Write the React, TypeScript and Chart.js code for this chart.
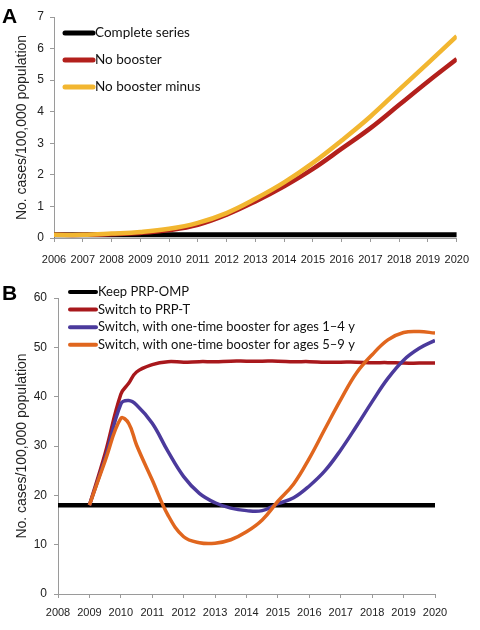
import React, { useEffect, useRef } from "react";
import { Chart, registerables } from "chart.js";

Chart.register(...registerables);

// ---------- Panel A data ----------
const yearsA = [2006, 2007, 2008, 2009, 2010, 2011, 2012, 2013, 2014, 2015, 2016, 2017, 2018, 2019, 2020];
const completeSeries = [0.1, 0.1, 0.1, 0.1, 0.1, 0.1, 0.1, 0.1, 0.1, 0.1, 0.1, 0.1, 0.1, 0.1, 0.1];
const noBooster = [0.1, 0.1, 0.12, 0.16, 0.25, 0.42, 0.74, 1.16, 1.64, 2.19, 2.83, 3.48, 4.22, 4.96, 5.67];
const noBoosterMinus = [0.1, 0.1, 0.14, 0.19, 0.29, 0.48, 0.79, 1.24, 1.76, 2.38, 3.09, 3.85, 4.7, 5.54, 6.39];
const labelsA = ["Complete series", "No booster", "No booster minus"];

// ---------- Panel B data ----------
const yearsB = [2008, 2008.5, 2009, 2009.5, 2010, 2010.25, 2010.5, 2011, 2011.5, 2012, 2012.5, 2013, 2013.5, 2014, 2014.5, 2015, 2015.5, 2016, 2016.5, 2017, 2017.5, 2018, 2018.5, 2019, 2019.5, 2020];
const keepPRPOMP = [18, 18, 18, 18, 18, 18, 18, 18, 18, 18, 18, 18, 18, 18, 18, 18, 18, 18, 18, 18, 18, 18, 18, 18, 18, 18];
const switchPRPT = [null, null, 18, 28.5, 40.5, 42.7, 45.0, 46.5, 47.1, 47.0, 47.1, 47.1, 47.2, 47.2, 47.2, 47.2, 47.1, 47.1, 47.0, 47.0, 47.0, 46.9, 46.9, 46.8, 46.8, 46.8];
const switchBooster1to4 = [null, null, 18, 27.5, 38.5, 39.2, 38.3, 34.6, 28.9, 23.8, 20.4, 18.5, 17.4, 16.9, 16.9, 18.3, 19.5, 21.9, 25.0, 29.2, 34.0, 39.0, 43.7, 47.4, 49.8, 51.4];
const switchBooster5to9 = [null, null, 18, 27, 35.6, 34.6, 30.2, 23.1, 16.0, 11.6, 10.4, 10.3, 11.0, 12.6, 15.0, 18.8, 22.3, 27.5, 33.5, 39.4, 44.8, 48.5, 51.5, 53.0, 53.2, 52.9];
const labelsB = [
  "Keep PRP-OMP",
  "Switch to PRP-T",
  "Switch, with one-time booster for ages 1\u20134 y",
  "Switch, with one-time booster for ages 5\u20139 y",
];

const yTitle = "No. cases/100,000 population";

const toPoints = (xs: number[], ys: (number | null)[]) => xs.map((x, i) => ({ x, y: ys[i] }));

const insideLegend = {
  id: "insideLegend",
  afterDraw(chart: any, _args: any, opts: any) {
    const ctx = chart.ctx;
    ctx.save();
    const ds = chart.data.datasets;
    ds.forEach((d: any, i: number) => {
      const y = opts.y + i * opts.rowHeight;
      ctx.strokeStyle = d.borderColor;
      ctx.lineWidth = opts.lineWidth;
      ctx.lineCap = "round";
      ctx.beginPath();
      ctx.moveTo(opts.x, y);
      ctx.lineTo(opts.x + opts.lineLen, y);
      ctx.stroke();
      ctx.fillStyle = "#111";
      ctx.font = opts.font;
      ctx.textBaseline = "middle";
      ctx.textAlign = "left";
      ctx.fillText(d.label, opts.x + opts.lineLen + opts.gap, y);
    });
    if (opts.panel) {
      ctx.font = "bold 21px 'Liberation Sans', Arial, sans-serif";
      ctx.fillStyle = "#000";
      ctx.textBaseline = "alphabetic";
      ctx.fillText(opts.panel, opts.panelX, opts.panelY);
    }
    ctx.restore();
  },
};

const axisColor = "#9a9a9a";
const tickFont = { family: "'Liberation Sans', Arial, sans-serif", size: 11 };

export default function App() {
  const refA = useRef<HTMLCanvasElement>(null);
  const refB = useRef<HTMLCanvasElement>(null);

  useEffect(() => {
    const lineDs = (label: string, data: any, color: string, width: number, order: number) => ({
      label,
      data,
      borderColor: color,
      backgroundColor: color,
      borderWidth: width,
      pointRadius: 0,
      tension: 0.4,
      fill: false,
      order,
      borderCapStyle: "butt" as const,
    });

    const chartA = new Chart(refA.current!, {
      type: "line",
      data: {
        datasets: [
          lineDs(labelsA[0], toPoints(yearsA, completeSeries), "#000000", 5, 3),
          lineDs(labelsA[1], toPoints(yearsA, noBooster), "#b3201c", 4.5, 2),
          lineDs(labelsA[2], toPoints(yearsA, noBoosterMinus), "#f2b630", 4.5, 1),
        ],
      },
      options: {
        animation: false,
        responsive: false,
        maintainAspectRatio: false,
        layout: { padding: { top: 17, right: 22, left: 0, bottom: 0 } },
        plugins: {
          legend: { display: false },
          tooltip: { enabled: false },
          insideLegend: {
            x: 65, y: 33, rowHeight: 27, lineLen: 28, gap: 2, lineWidth: 5,
            font: "13.5px Lato, 'Open Sans', sans-serif",
            panel: "A", panelX: 2, panelY: 23,
          },
        } as any,
        scales: {
          x: {
            type: "linear",
            min: 2006,
            max: 2020,
            afterFit: (s: any) => { s.height = 32; },
            ticks: { stepSize: 1, autoSkip: false, maxRotation: 0, padding: 11, color: "#222", font: tickFont, callback: (v: any) => String(v) },
            grid: { drawOnChartArea: false, drawTicks: true, tickLength: 4, color: axisColor },
            border: { display: true, color: axisColor, width: 1 },
          },
          y: {
            min: 0,
            max: 7,
            afterFit: (s: any) => { s.width = 54; },
            ticks: { stepSize: 1, padding: 6, color: "#222", font: { ...tickFont, size: 12 } },
            grid: { drawOnChartArea: false, drawTicks: true, tickLength: 4, color: axisColor },
            border: { display: true, color: axisColor, width: 1 },
            title: { display: true, text: yTitle, color: "#222", font: { family: "'Liberation Sans', Arial, sans-serif", size: 14 }, padding: { top: 14, bottom: 0 } },
          },
        },
      },
      plugins: [insideLegend],
    });

    const chartB = new Chart(refB.current!, {
      type: "line",
      data: {
        datasets: [
          lineDs(labelsB[0], toPoints(yearsB, keepPRPOMP), "#000000", 4.5, 4),
          lineDs(labelsB[1], toPoints(yearsB, switchPRPT), "#a8181c", 3.5, 3),
          lineDs(labelsB[2], toPoints(yearsB, switchBooster1to4), "#4b3a9c", 3.5, 2),
          lineDs(labelsB[3], toPoints(yearsB, switchBooster5to9), "#e0661e", 3.5, 1),
        ],
      },
      options: {
        animation: false,
        responsive: false,
        maintainAspectRatio: false,
        layout: { padding: { top: 28, right: 45, left: 0, bottom: 0 } },
        plugins: {
          legend: { display: false },
          tooltip: { enabled: false },
          insideLegend: {
            x: 70, y: 22, rowHeight: 17.6, lineLen: 26, gap: 2, lineWidth: 4,
            font: "13px Lato, 'Open Sans', sans-serif",
            panel: "B", panelX: 2, panelY: 30,
          },
        } as any,
        scales: {
          x: {
            type: "linear",
            min: 2008,
            max: 2020,
            afterFit: (s: any) => { s.height = 36; },
            ticks: { stepSize: 1, autoSkip: false, maxRotation: 0, padding: 8, color: "#222", font: tickFont, callback: (v: any) => String(v) },
            grid: { drawOnChartArea: false, drawTicks: true, tickLength: 4, color: axisColor },
            border: { display: true, color: axisColor, width: 1 },
          },
          y: {
            min: 0,
            max: 60,
            afterFit: (s: any) => { s.width = 58; },
            ticks: { stepSize: 10, padding: 7, color: "#222", font: { ...tickFont, size: 12 } },
            grid: { drawOnChartArea: false, drawTicks: true, tickLength: 4, color: axisColor },
            border: { display: true, color: axisColor, width: 1 },
            title: { display: true, text: yTitle, color: "#222", font: { family: "'Liberation Sans', Arial, sans-serif", size: 14 }, padding: { top: 14, bottom: 0 } },
          },
        },
      },
      plugins: [insideLegend],
    });

    return () => {
      chartA.destroy();
      chartB.destroy();
    };
  }, []);

  return (
    <div style={{ position: "absolute", left: 0, top: 0, width: 480, height: 630, background: "#fff" }}>
      <canvas ref={refA} width={480} height={270} style={{ position: "absolute", left: 0, top: 0, width: 480, height: 270 }} />
      <canvas ref={refB} width={480} height={360} style={{ position: "absolute", left: 0, top: 270, width: 480, height: 360 }} />
    </div>
  );
}
